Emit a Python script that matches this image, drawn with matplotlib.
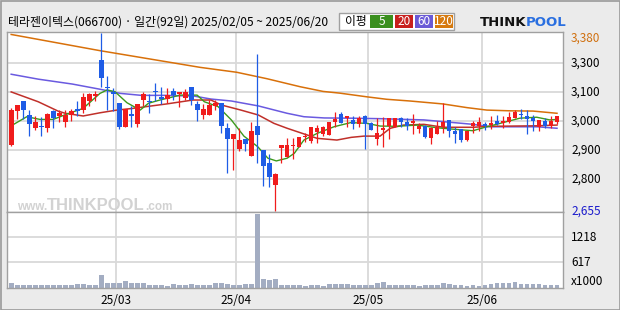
import numpy as np
import matplotlib.pyplot as plt
import matplotlib.transforms as mtransforms
from matplotlib.patches import Rectangle

plt.rcParams['font.family'] = ['Noto Sans CJK KR', 'DejaVu Sans']

# daily candles, 2025/02/05 ~ 2025/06/20 (92 trading days)
opens = [2924, 3063, 3103, 3045, 2993, 3000, 2993, 3062, 3042, 3019,
         3045, 3069, 3066, 3104, 3125, 3270, 3160, 3140, 3095, 2998,
         3049, 3009, 3107, 3103, 3144, 3118, 3111, 3144, 3131, 3116,
         3159, 3092, 3047, 3047, 3083, 3095, 2993, 2949, 2909, 2948,
         2880, 3000, 2903, 2852, 2762, 2910, 2876, 2921, 2917, 2955,
         2941, 2976, 2967, 2966, 3016, 3050, 3035, 3027, 3011, 3043,
         3013, 2947, 2986, 3001, 2996, 3034, 3019, 3015, 2989, 3000,
         2954, 2970, 2996, 3024, 2980, 2989, 2944, 3002, 3002, 3008,
         3006, 3022, 3012, 3017, 3034, 3050, 3042, 3034, 2998, 3020,
         3002, 3019]
highs = [3074, 3087, 3103, 3066, 3042, 3037, 3054, 3066, 3066, 3066,
         3072, 3104, 3134, 3137, 3144, 3381, 3206, 3156, 3095, 3069,
         3083, 3091, 3138, 3130, 3177, 3159, 3156, 3155, 3140, 3153,
         3159, 3104, 3091, 3107, 3107, 3095, 3013, 2969, 2993, 2948,
         3017, 3294, 2903, 2887, 2809, 2923, 2951, 2954, 2956, 2974,
         2997, 3004, 3001, 3016, 3059, 3059, 3042, 3041, 3042, 3047,
         3017, 3034, 3037, 3034, 3034, 3038, 3034, 3050, 3012, 3005,
         2998, 3022, 3095, 3024, 2998, 2989, 2980, 3022, 3037, 3016,
         3041, 3045, 3041, 3059, 3066, 3069, 3066, 3045, 3026, 3033,
         3041, 3042]
lows = [2920, 3030, 3030, 2962, 2985, 2962, 2978, 2994, 3019, 2998,
        3023, 3042, 3053, 3083, 3104, 3161, 3066, 3062, 2989, 2996,
        2998, 2998, 3083, 3055, 3103, 3091, 3094, 3107, 3080, 3107,
        3087, 3023, 3030, 3047, 3066, 2971, 2811, 2823, 2901, 2901,
        2880, 2849, 2758, 2754, 2655, 2852, 2874, 2866, 2914, 2937,
        2931, 2931, 2960, 2966, 2998, 3015, 2998, 2990, 2998, 2906,
        2986, 2924, 2917, 2950, 2996, 2996, 2985, 2969, 2974, 2951,
        2929, 2970, 2974, 2955, 2931, 2935, 2941, 2971, 2981, 2985,
        2988, 3004, 2994, 3012, 3034, 3031, 2970, 2981, 2980, 2992,
        2992, 3009]
closes = [3066, 3085, 3066, 3011, 3016, 2997, 3049, 3034, 3054, 3046,
          3062, 3062, 3119, 3131, 3131, 3195, 3156, 3131, 2998, 3069,
          3043, 3091, 3131, 3100, 3138, 3112, 3126, 3126, 3140, 3140,
          3107, 3066, 3070, 3085, 3095, 3002, 2949, 2969, 2944, 2929,
          2981, 2966, 2840, 2795, 2806, 2923, 2924, 2925, 2956, 2960,
          2997, 2994, 2997, 3016, 3028, 3015, 3042, 3009, 3033, 3011,
          2986, 2971, 2993, 3034, 3034, 3019, 3000, 3022, 3000, 2955,
          2994, 2996, 3017, 2980, 2970, 2946, 2980, 3012, 3016, 3002,
          3012, 3011, 3022, 3037, 3058, 3046, 3031, 3023, 3026, 3002,
          3022, 3042]
# volume, thousand shares
volumes = [112, 79, 79, 79, 79, 79, 79, 79, 79, 79,
           79, 88, 88, 65, 65, 311, 112, 112, 120, 160,
           112, 112, 112, 65, 79, 65, 48, 88, 79, 79,
           88, 79, 79, 79, 112, 112, 88, 79, 79, 88,
           88, 1761, 208, 191, 215, 79, 65, 65, 65, 48,
           65, 65, 48, 88, 88, 88, 88, 79, 79, 65,
           65, 112, 151, 79, 79, 79, 79, 79, 48, 65,
           65, 65, 127, 88, 79, 65, 48, 65, 48, 65,
           88, 112, 112, 112, 136, 88, 96, 88, 88, 79,
           79, 79]

# moving averages (day index, price)
ma5_x = [0, 2.6, 4.8, 7, 9.3, 12, 14.8, 16, 17.3, 19.3, 21.5, 22.9, 24.8,
         28.2, 31, 32.2, 34.5, 36.7, 38.8, 41.1, 42.8, 44.2, 46, 47.2, 48.8,
         51, 53.8, 56.6, 59.3, 61.5, 64.3, 67.7, 71, 73.8, 77, 78.7, 82,
         84.8, 87.6, 89.8, 91]
ma5_y = [3002, 3039, 3028, 3028, 3050, 3073, 3134, 3148, 3141, 3096, 3066,
         3094, 3107, 3127, 3127, 3100, 3080, 3026, 2960, 2917, 2870, 2859,
         2870, 2890, 2944, 2971, 2998, 3015, 3012, 3001, 3000, 3005, 2994,
         2988, 2982, 2994, 3015, 3033, 3037, 3026, 3028]
ma20_x = [0, 4.5, 7.8, 9, 12, 14.8, 17.6, 20.3, 25.9, 30.3, 33.3, 35, 38.3,
          41.2, 43.8, 46, 48.8, 51, 54.3, 56.7, 58.8, 61.5, 63.2, 65.4,
          68.8, 72.1, 77, 79.8, 87.6, 91]
ma20_y = [3140, 3100, 3062, 3053, 3042, 3055, 3066, 3073, 3091, 3107, 3107,
          3087, 3066, 3046, 3012, 2992, 2969, 2951, 2944, 2955, 2960, 2960,
          2992, 3005, 3008, 2996, 2996, 3000, 3002, 3005]
ma60_x = [0, 4.5, 10.2, 15, 18.2, 21.7, 25.7, 30.5, 33.3, 36.7, 41.2, 46,
          48.8, 52.2, 56.7, 61.5, 68.8, 73.8, 77, 79.8, 87.7, 91]
ma60_y = [3212, 3192, 3172, 3150, 3134, 3126, 3126, 3123, 3111, 3103, 3083,
          3053, 3039, 3034, 3033, 3031, 3026, 3015, 3008, 2998, 2998, 2992]
ma120_x = [0, 14.8, 31.5, 37.6, 42.6, 48.2, 52, 54.8, 59.3, 62.6, 66.5, 72,
           76, 79.3, 83.2, 87, 91]
ma120_y = [3374, 3308, 3240, 3220, 3194, 3161, 3142, 3135, 3120, 3110, 3103,
           3091, 3076, 3066, 3063, 3062, 3053]

month_pos = [17.5, 37.5, 59.5, 78.5]
month_labels = ['25/03', '25/04', '25/05', '25/06']
price_ticks = [3258, 3140, 3022, 2903, 2785]
price_labels = ['3,300', '3,100', '3,000', '2,900', '2,800']
vol_ticks = [1218, 617]

RED = '#f01c1c'
BLUE = '#1e5ce6'
GRID = '#d9d9d9'
FRAME = '#a0a0a0'

fig = plt.figure(figsize=(6.2, 3.1), dpi=100, facecolor='#ebebeb')
fig.patches.append(Rectangle((0.5 / 620, 0.5 / 310), 619 / 620, 309 / 310,
                             transform=fig.transFigure, fill=False,
                             edgecolor='#9a9a9a', linewidth=1.2))

ax = fig.add_axes([7 / 620, 1 - 212 / 310, 556 / 620, 180 / 310])
axv = fig.add_axes([7 / 620, 1 - 288 / 310, 556 / 620, 76 / 310])

x = np.arange(len(closes))
o = np.array(opens)
c = np.array(closes)
up = c >= o
colors = np.where(up, RED, BLUE)

for a in (ax, axv):
    a.set_xlim(-0.7, 92)
    a.set_xticks([])
    a.set_yticks([])
    for s in a.spines.values():
        s.set_color(FRAME)
        s.set_linewidth(1)
    for m in month_pos:
        a.axvline(m, color=GRID, lw=1.3, zorder=0)

# price panel
ax.set_ylim(2651, 3384)
for t in price_ticks:
    ax.axhline(t, color=GRID, lw=1.3, zorder=0)

# watermark
wm = dict(color='#d2d2d2', va='baseline', transform=ax.transData,
          clip_on=True, fontweight='bold', family='Liberation Sans')
ax.text(6.0, 2658, 'www.', ha='right', fontsize=8.5, **wm)
ax.text(6.0, 2658, 'THINKPOOL', ha='left', fontsize=12, **wm)
ax.text(22.3, 2658, '.com', ha='left', fontsize=8.5, **wm)

ax.plot(ma120_x, ma120_y, color='#d8700a', lw=1.1, zorder=2)
ax.plot(ma60_x, ma60_y, color='#6a5ae0', lw=1.1, zorder=2)
ax.plot(ma20_x, ma20_y, color='#c0302a', lw=1.1, zorder=2)
ax.plot(ma5_x, ma5_y, color='#3c9a1c', lw=1.0, zorder=2)

ax.vlines(x, lows, highs, colors=colors, lw=0.9, zorder=3)
bottoms = np.minimum(o, c)
heights = np.maximum(np.abs(c - o), 4.5)
ax.bar(x, heights, bottom=bottoms, width=0.8, color=colors, zorder=4)

# volume panel
axv.set_ylim(0, 1818)
for t in vol_ticks:
    axv.axhline(t, color=GRID, lw=1.3, zorder=0)
axv.bar(x, volumes, width=0.82, color='#a3adc2', zorder=2)

# right axis labels
tp = mtransforms.blended_transform_factory(fig.transFigure, ax.transData)
lx = 571 / 620
for t, lab in zip(price_ticks, price_labels):
    fig.text(lx, t, lab, transform=tp, va='center', fontsize=8.5)
fig.text(lx, 3384, '3,380', transform=tp, va='top', fontsize=8.5,
         color='#d07010')
fig.text(lx, 2655, '2,655', transform=tp, va='center', fontsize=8.5,
         color='#1a1acc')
tv = mtransforms.blended_transform_factory(fig.transFigure, axv.transData)
for t in vol_ticks:
    fig.text(lx, t, str(t), transform=tv, va='center', fontsize=8.5)
fig.text(lx, 0, 'x1000', transform=tv, va='bottom', fontsize=8.5)

# month labels
tx = mtransforms.blended_transform_factory(axv.transData, fig.transFigure)
for m, lab in zip(month_pos, month_labels):
    fig.text(m, 1 - 301 / 310, lab, transform=tx, ha='center', va='center',
             fontsize=8.5)

# header
fig.text(7.5 / 620, 1 - 22 / 310,
         '테라젠이텍스(066700) · 일간(92일) 2025/02/05 ~ 2025/06/20',
         va='center', fontsize=8.6)

fig.patches.append(Rectangle((339 / 620, 1 - 29.5 / 310), 115 / 620, 16 / 310,
                             transform=fig.transFigure, facecolor='white',
                             edgecolor=FRAME, linewidth=1))
fig.text(356 / 620, 1 - 21.5 / 310, '이평', ha='center', va='center',
         fontsize=8.5)
legend_items = [('5', '#3a8f1e', 370, 394), ('20', '#c8201e', 395, 414),
                ('60', '#6a5ad6', 415, 434), ('120', '#d67a10', 435, 454)]
for lab, col, x0, x1 in legend_items:
    fig.patches.append(Rectangle((x0 / 620, 1 - 27.5 / 310), (x1 - x0 - 1) / 620,
                                 12.5 / 310, transform=fig.transFigure,
                                 facecolor=col, edgecolor='none'))
    fig.text((x0 + x1 - 1) / 2 / 620, 1 - 21.5 / 310, lab, ha='center',
             va='center', fontsize=8.5, color='white')

# logo
fig.text(526 / 620, 1 - 22 / 310, 'THINK', ha='right', va='center',
         fontsize=9.5, fontweight='heavy', family='DejaVu Sans', color='#111111')
fig.text(526 / 620, 1 - 22 / 310, 'POOL', ha='left', va='center',
         fontsize=9.5, fontweight='heavy', family='DejaVu Sans', color='#2a6fe0')

fig.savefig('out.png', dpi=100, facecolor=fig.get_facecolor())
